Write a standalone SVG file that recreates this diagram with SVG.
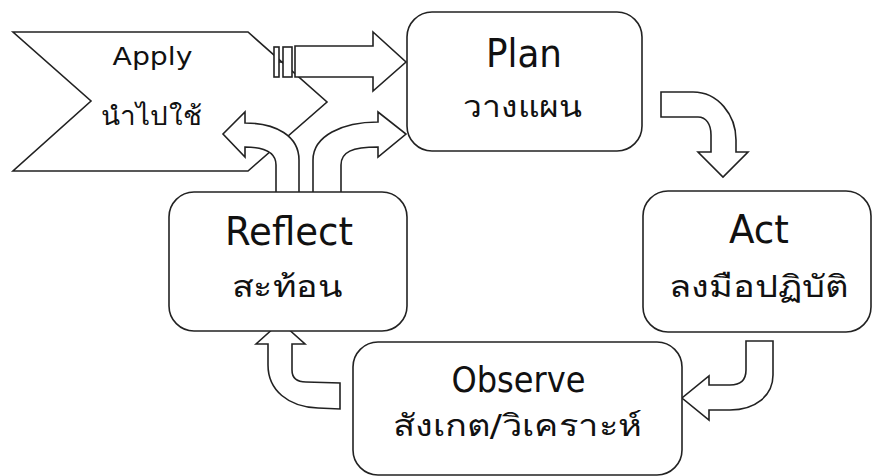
<svg xmlns="http://www.w3.org/2000/svg" width="873" height="476" viewBox="0 0 873 476">
<style>
.box{fill:#fff;stroke:#222;stroke-width:1.6}
.arr{fill:#fff;stroke:#222;stroke-width:1.6;stroke-linejoin:miter}
.en{font-family:"DejaVu Sans",sans-serif;fill:#111;text-anchor:middle}
.th{font-family:"DejaVu Sans","Noto Sans",sans-serif;fill:#111;text-anchor:middle}
</style>
<rect width="873" height="476" fill="#fff"/>
<g id="apply">
<polygon class="box" points="13,32 248,32 327,102 248,171 13,171 91,101"/>
<text class="en" x="152.5" y="65" font-size="24" textLength="80" lengthAdjust="spacingAndGlyphs">Apply</text>
<text class="th" x="151.5" y="125" font-size="26" textLength="101" lengthAdjust="spacingAndGlyphs">นำไปใช้</text>
</g>
<g id="connectors">
<g id="apply-to-plan">
<rect class="arr" x="274" y="47" width="5" height="30"/>
<line x1="279" y1="62" x2="283" y2="62" stroke="#222" stroke-width="1.6"/>
<rect class="arr" x="283" y="47" width="9" height="30"/>
<path class="arr" d="M295 46 L373 46 L373 32 L406 62 L373 91 L373 77 L295 77 Z"/>
</g>
<path id="reflect-to-apply" class="arr" d="M299 196 L299 160 C299 136 276 123 245 123 L245 112 L223 134 L245 157 L245 147 C265 147 276 152 276 165 L276 196 Z"/>
<path id="reflect-to-plan" class="arr" d="M313 196 L313 160 C313 136 342 122 378 122 L378 112 L406 134 L378 157 L378 147 C352 147 341 152 341 165 L341 196 Z"/>
<path id="plan-to-act" class="arr" d="M661 92 L693 92 C718 92 736 115 736 140 L736 152 L748 152 L723 177 L698 152 L711 152 L711 135 C711 124 706 117 698 117 L661 117 Z"/>
<path id="act-to-observe" class="arr" d="M746 341 L773 341 L773 375 C773 396 755 410 730 410 L709 410 L709 420 L682 398 L709 376 L709 385 L730 385 C740 385 746 380 746 370 Z"/>
<path id="observe-to-reflect" class="arr" d="M340 383 L340 409 L318 408 C288 407 268 390 268 365 L268 344 L256 344 L280.5 322 L305 344 L292 344 L292 370 C292 378 297 382 306 382 Z"/>
</g>
<g id="plan">
<rect class="box" x="407" y="12" width="235" height="139" rx="25"/>
<text class="en" x="524" y="67" font-size="39" textLength="76" lengthAdjust="spacingAndGlyphs">Plan</text>
<text class="th" x="523" y="117" font-size="30" textLength="120" lengthAdjust="spacingAndGlyphs">วางแผน</text>
</g>
<g id="reflect">
<rect class="box" x="169" y="192" width="238" height="139" rx="25"/>
<text class="en" x="289" y="245" font-size="39" textLength="128" lengthAdjust="spacingAndGlyphs">Reflect</text>
<text class="th" x="287.5" y="297" font-size="30" textLength="111" lengthAdjust="spacingAndGlyphs">สะท้อน</text>
</g>
<g id="act">
<rect class="box" x="643" y="191" width="228" height="141" rx="25"/>
<text class="en" x="759" y="243" font-size="39" textLength="60" lengthAdjust="spacingAndGlyphs">Act</text>
<text class="th" x="758.5" y="297" font-size="30" textLength="179" lengthAdjust="spacingAndGlyphs">ลงมือปฏิบัติ</text>
</g>
<g id="observe">
<rect class="box" x="353" y="342" width="329" height="133" rx="25"/>
<text class="en" x="518.5" y="392" font-size="36" textLength="134" lengthAdjust="spacingAndGlyphs">Observe</text>
<text class="th" x="517.5" y="436" font-size="30" textLength="249" lengthAdjust="spacingAndGlyphs">สังเกต/วิเคราะห์</text>
</g>
</svg>
